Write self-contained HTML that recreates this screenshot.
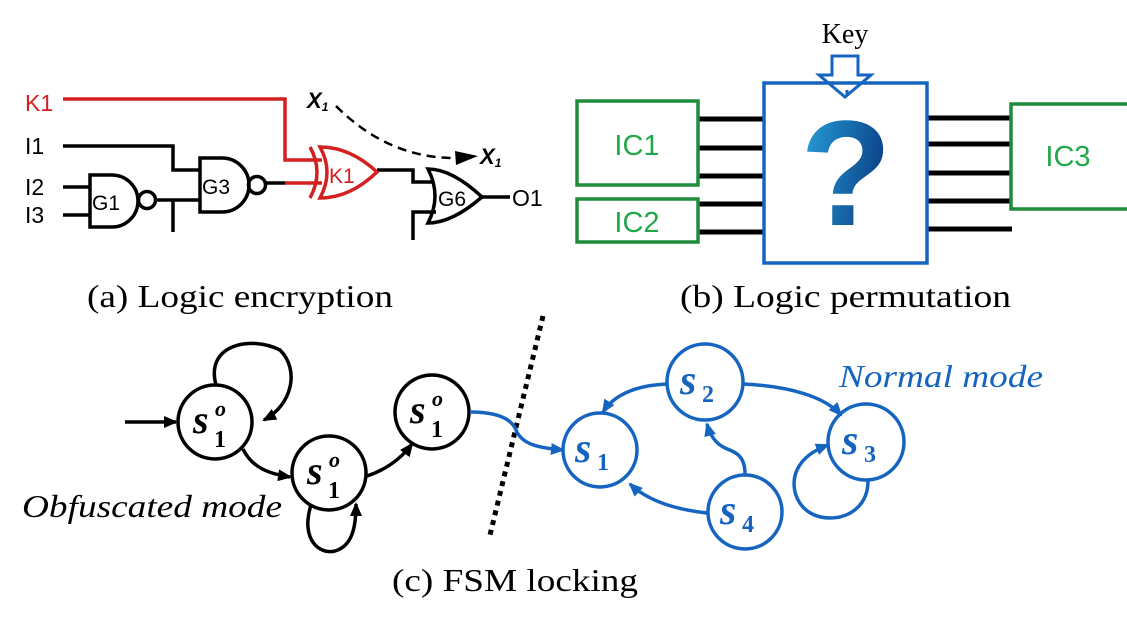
<!DOCTYPE html>
<html><head><meta charset="utf-8"><style>
html,body{margin:0;padding:0;background:#fff;}
svg{display:block;}
.ser{font-family:"Liberation Serif",serif;}
.san{font-family:"Liberation Sans",sans-serif;}
</style></head><body>
<svg width="1127" height="624" viewBox="0 0 1127 624" xmlns="http://www.w3.org/2000/svg">
<defs>
<linearGradient id="qg" x1="0" y1="0" x2="1" y2="0.3">
<stop offset="0" stop-color="#29a6e0"/><stop offset="1" stop-color="#0a3f85"/>
</linearGradient>
<marker id="ab" markerWidth="14" markerHeight="12" refX="12" refY="6" orient="auto" markerUnits="userSpaceOnUse"><path d="M0,0 L14,6 L0,12 z" fill="#000"/></marker>
<marker id="abl" markerWidth="14" markerHeight="12" refX="12" refY="6" orient="auto" markerUnits="userSpaceOnUse"><path d="M0,0 L14,6 L0,12 z" fill="#1565c0"/></marker>
</defs>

<!-- (a) circuit -->
<g class="san" font-size="23">
<text x="25" y="111" fill="#d42020">K1</text>
<text x="25" y="154">I1</text>
<text x="25" y="195">I2</text>
<text x="25" y="223">I3</text>
<text x="512" y="206">O1</text>
</g>
<g fill="none" stroke="#000" stroke-width="3.5">
<path d="M63 146 H173 V170 H200"/>
<path d="M63 187 H90 M63 215 H90"/>
<path d="M156 200 H200 M173 200 V232"/>
<path d="M266 183 H285"/>
<path d="M377 170 H413 V182 H432"/>
<path d="M413 240 V212 H436"/>
<path d="M482 197 H510"/>
<path d="M90 175 H112 A26 26 0 0 1 112 227 H90 Z"/>
<circle cx="147" cy="200" r="8.5"/>
<path d="M200 158 H222 A27 27 0 0 1 222 212 H200 Z"/>
<circle cx="257" cy="185" r="8.5"/>
<path d="M428 169 Q452 169 482 197 Q452 223 428 223 Q442 196 428 169 Z"/>
</g>
<g class="san" font-size="21">
<text x="92" y="210">G1</text>
<text x="202" y="194">G3</text>
<text x="438" y="206">G6</text>
</g>
<g fill="none" stroke="#d42020" stroke-width="3.5">
<path d="M63 99 H285 V160 H322"/>
<path d="M285 183 H322"/>
<path d="M310 147 Q324 172 310 198"/>
<path d="M320 147 Q350 147 377 172 Q350 198 320 198 Q334 172 320 147 Z"/>
</g>
<text x="329" y="183" class="san" font-size="21" fill="#d42020">K1</text>
<path d="M336 106 Q390 160 460 158" fill="none" stroke="#000" stroke-width="2.5" stroke-dasharray="9 6"/>
<path d="M455 151 L478 156 L456 165 Z" fill="#000"/>
<g class="san" font-size="22" font-style="italic" font-weight="bold">
<text x="307" y="108">X<tspan font-size="12" dy="3">1</tspan></text>
<text x="480" y="164">X<tspan font-size="12" dy="3">1</tspan></text>
</g>
<text x="87" y="307" class="ser" font-size="32" textLength="306" lengthAdjust="spacingAndGlyphs">(a) Logic encryption</text>

<!-- (b) -->
<text x="845" y="43" class="ser" font-size="28" text-anchor="middle">Key</text>
<path d="M832 56 H858 V75 H871 L845 97 L819 75 H832 Z" fill="#fff" stroke="#1565c0" stroke-width="3"/>
<g stroke="#000" stroke-width="5">
<path d="M698 119 H764 M698 148 H764 M698 176 H764 M698 204 H764 M698 232 H764"/>
<path d="M927 118 H1010 M927 144 H1010 M927 173 H1010 M927 201 H1010 M927 229 H1012"/>
</g>
<rect x="764" y="83" width="163" height="180" fill="none" stroke="#1565c0" stroke-width="3.5"/>
<path d="M847 90 V95" stroke="#1565c0" stroke-width="3"/>
<text x="846" y="225" class="san" font-size="150" font-weight="bold" text-anchor="middle" fill="url(#qg)">?</text>
<g fill="#fff" stroke="#1e8c3a" stroke-width="3.5">
<rect x="577" y="101" width="121" height="84"/>
<rect x="577" y="199" width="121" height="43"/>
<rect x="1011" y="104" width="120" height="105"/>
</g>
<g class="san" font-size="29" fill="#22a84a" text-anchor="middle">
<text x="637" y="155">IC1</text>
<text x="637" y="232">IC2</text>
<text x="1068" y="166">IC3</text>
</g>
<text x="680" y="307" class="ser" font-size="32" textLength="331" lengthAdjust="spacingAndGlyphs">(b) Logic permutation</text>

<path d="M543 316 L490 535" stroke="#000" stroke-width="5" stroke-dasharray="5 5"/>

<!-- (c) black FSM -->
<g fill="none" stroke="#000" stroke-width="3.5">
<circle cx="215" cy="422" r="37"/>
<circle cx="329" cy="473" r="37"/>
<circle cx="432" cy="412" r="37"/>
<path d="M125 422 H176" marker-end="url(#ab)"/>
<path d="M216 385 C205 345 250 335 280 350 C300 370 292 405 264 420" marker-end="url(#ab)"/>
<path d="M243 449 C252 468 270 474 290 477" marker-end="url(#ab)"/>
<path d="M367 476 C385 470 400 460 412 444" marker-end="url(#ab)"/>
<path d="M311 505 C300 540 320 555 335 551 C352 546 356 528 356 504" marker-end="url(#ab)"/>
</g>
<g class="ser" font-weight="bold" font-style="italic">
<text x="193" y="433" font-size="40">s</text><text x="215" y="416" font-size="22">o</text><text x="214" y="447" font-size="24" font-style="normal">1</text>
<text x="307" y="484" font-size="40">s</text><text x="329" y="467" font-size="22">o</text><text x="328" y="498" font-size="24" font-style="normal">1</text>
<text x="410" y="423" font-size="40">s</text><text x="432" y="406" font-size="22">o</text><text x="431" y="437" font-size="24" font-style="normal">1</text>
</g>
<text x="22" y="517" class="ser" font-size="32" font-style="italic" textLength="260" lengthAdjust="spacingAndGlyphs">Obfuscated mode</text>

<!-- blue FSM -->
<g fill="none" stroke="#1565c0" stroke-width="3.5">
<path d="M470 412 C500 412 512 420 516 430 C522 445 540 448 563 450" marker-end="url(#abl)"/>
<circle cx="600" cy="450" r="37"/>
<circle cx="705" cy="382" r="38"/>
<circle cx="745" cy="512" r="37"/>
<circle cx="866" cy="442" r="38"/>
<path d="M667 384 C640 385 615 393 603 412" marker-end="url(#abl)"/>
<path d="M743 384 C790 386 825 397 841 415" marker-end="url(#abl)"/>
<path d="M745 474 C745 455 735 452 725 448 C715 443 710 435 707 424" marker-end="url(#abl)"/>
<path d="M707 513 C680 510 650 503 630 484" marker-end="url(#abl)"/>
<path d="M868 481 C868 505 850 518 830 518 C800 518 788 490 797 470 C803 457 815 450 828 445" marker-end="url(#abl)"/>
</g>
<g class="ser" font-weight="bold" font-style="italic" fill="#1565c0">
<text x="575" y="462" font-size="42">s</text><text x="597" y="470" font-size="24" font-style="normal">1</text>
<text x="680" y="394" font-size="42">s</text><text x="702" y="402" font-size="24" font-style="normal">2</text>
<text x="720" y="524" font-size="42">s</text><text x="742" y="532" font-size="24" font-style="normal">4</text>
<text x="842" y="454" font-size="42">s</text><text x="864" y="462" font-size="24" font-style="normal">3</text>
</g>
<text x="839" y="387" class="ser" font-size="32" font-style="italic" fill="#1565c0" textLength="204" lengthAdjust="spacingAndGlyphs">Normal mode</text>

<text x="392" y="591" class="ser" font-size="32" textLength="246" lengthAdjust="spacingAndGlyphs">(c) FSM locking</text>
</svg>
</body></html>
